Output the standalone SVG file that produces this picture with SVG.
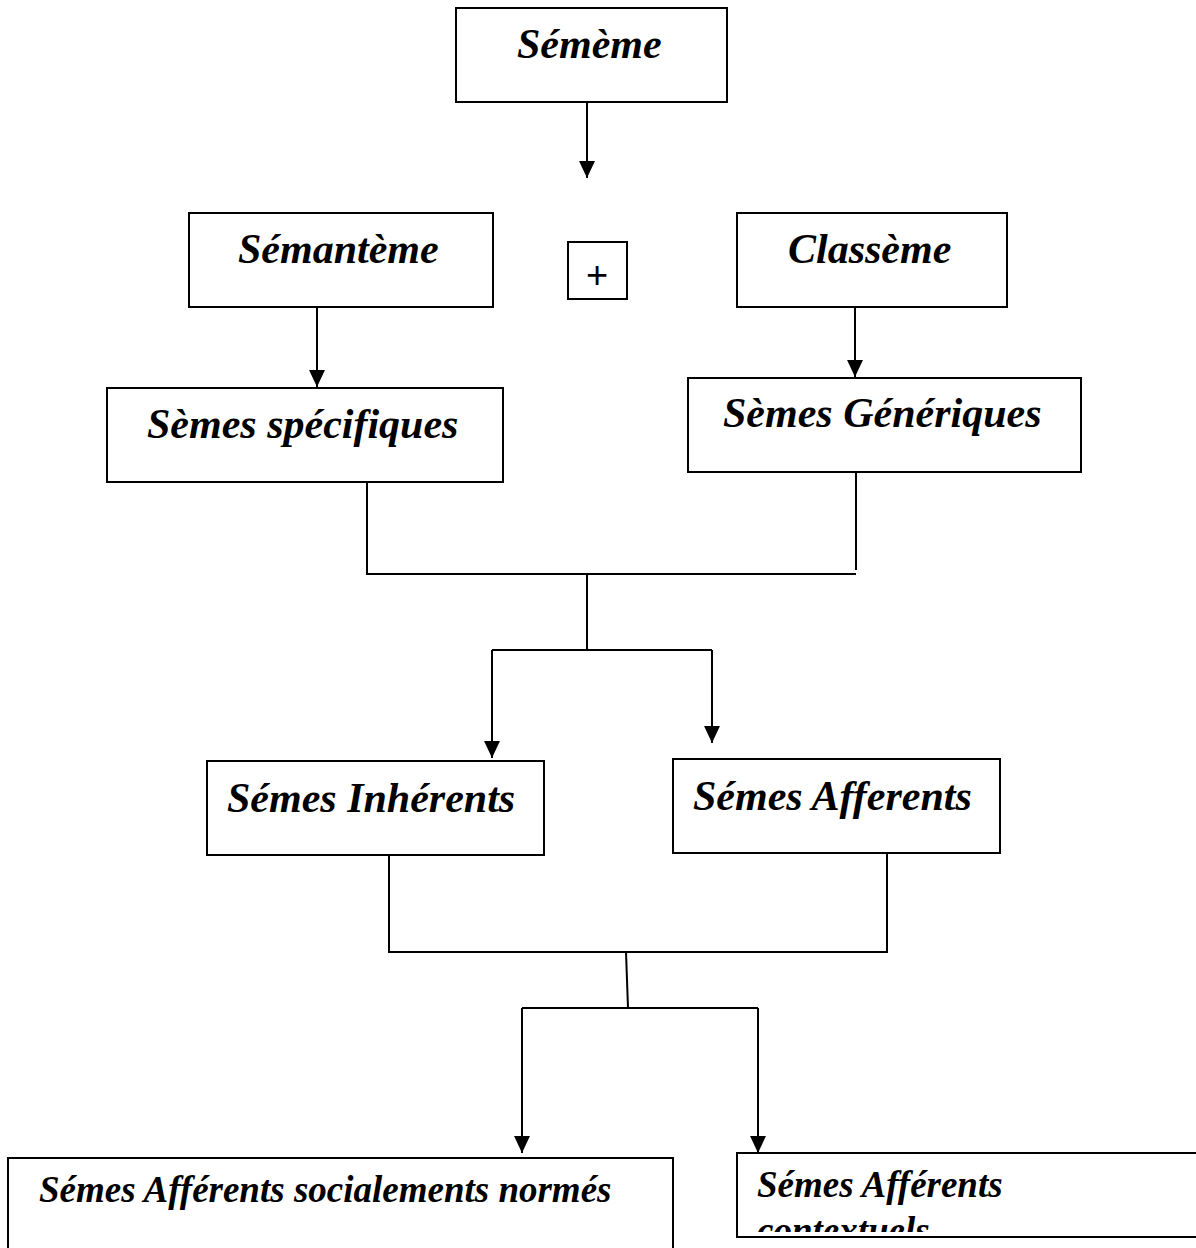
<svg xmlns="http://www.w3.org/2000/svg" width="1196" height="1248" viewBox="0 0 1196 1248">
  <defs>
    <style>
      .box { fill: #ffffff; stroke: #000000; stroke-width: 2; }
      .lbl { font-family: "Liberation Serif", "Times New Roman", serif; font-weight: bold; font-style: italic; font-size: 42px; fill: #000000; }
      .lbl-sm { font-size: 37px; }
      .wire { fill: none; stroke: #000000; stroke-width: 2; }
      .plus { font-family: "Liberation Sans", Arial, sans-serif; font-size: 38px; fill: #000000; }
    </style>
    <marker id="arrow" markerUnits="userSpaceOnUse" markerWidth="18" markerHeight="18" viewBox="0 -8 17 16" refX="16" refY="0" orient="auto">
      <path d="M0,-7.5 L16,0 L0,7.5 z" fill="#000000"/>
    </marker>
    <clipPath id="clip-contextuels">
      <rect x="737" y="1153" width="459" height="79"/>
    </clipPath>
  </defs>

  <rect width="1196" height="1248" fill="#ffffff"/>

  <!-- connectors -->
  <g id="connectors">
    <path class="wire" d="M587 100 V178" marker-end="url(#arrow)"/>
    <path class="wire" d="M317 307 V387" marker-end="url(#arrow)"/>
    <path class="wire" d="M855 298 V377" marker-end="url(#arrow)"/>

    <path class="wire" d="M367 476 V574 H856"/>
    <path class="wire" d="M856 472 V570"/>
    <path class="wire" d="M587 574 V650"/>
    <path class="wire" d="M492 650 H712"/>
    <path class="wire" d="M492 650 V758" marker-end="url(#arrow)"/>
    <path class="wire" d="M712 650 V743" marker-end="url(#arrow)"/>

    <path class="wire" d="M389 855 V952 H887 V853"/>
    <path class="wire" d="M626 952 L628 1008"/>
    <path class="wire" d="M522 1008 H758"/>
    <path class="wire" d="M522 1008 V1153" marker-end="url(#arrow)"/>
    <path class="wire" d="M758 1008 V1153" marker-end="url(#arrow)"/>
  </g>

  <!-- nodes -->
  <g id="node-sememe">
    <rect class="box" x="456" y="8" width="271" height="94"/>
    <text class="lbl" x="517" y="58">Sémème</text>
  </g>

  <g id="node-semanteme">
    <rect class="box" x="189" y="213" width="304" height="94"/>
    <text class="lbl" x="238" y="263">Sémantème</text>
  </g>

  <g id="node-plus">
    <rect class="box" x="568" y="242" width="59" height="57"/>
    <text class="plus" x="597" y="288" text-anchor="middle">+</text>
  </g>

  <g id="node-classeme">
    <rect class="box" x="737" y="213" width="270" height="94"/>
    <text class="lbl" x="788" y="263">Classème</text>
  </g>

  <g id="node-specifiques">
    <rect class="box" x="107" y="388" width="396" height="94"/>
    <text class="lbl" x="147" y="438">Sèmes spécifiques</text>
  </g>

  <g id="node-generiques">
    <rect class="box" x="688" y="378" width="393" height="94"/>
    <text class="lbl" x="723" y="427">Sèmes Génériques</text>
  </g>

  <g id="node-inherents">
    <rect class="box" x="207" y="761" width="337" height="94"/>
    <text class="lbl" x="227" y="812">Sémes Inhérents</text>
  </g>

  <g id="node-afferents">
    <rect class="box" x="673" y="759" width="327" height="94"/>
    <text class="lbl" x="693" y="810">Sémes Afferents</text>
  </g>

  <g id="node-socialement-normes">
    <rect class="box" x="8" y="1158" width="665" height="100"/>
    <text class="lbl lbl-sm" x="39" y="1202">Sémes Afférents socialements normés</text>
  </g>

  <g id="node-contextuels">
    <rect class="box" x="737" y="1153" width="470" height="84"/>
    <text class="lbl lbl-sm" x="757" y="1197">Sémes Afférents</text>
    <text class="lbl lbl-sm" x="757" y="1243" clip-path="url(#clip-contextuels)">contextuels</text>
  </g>
</svg>
